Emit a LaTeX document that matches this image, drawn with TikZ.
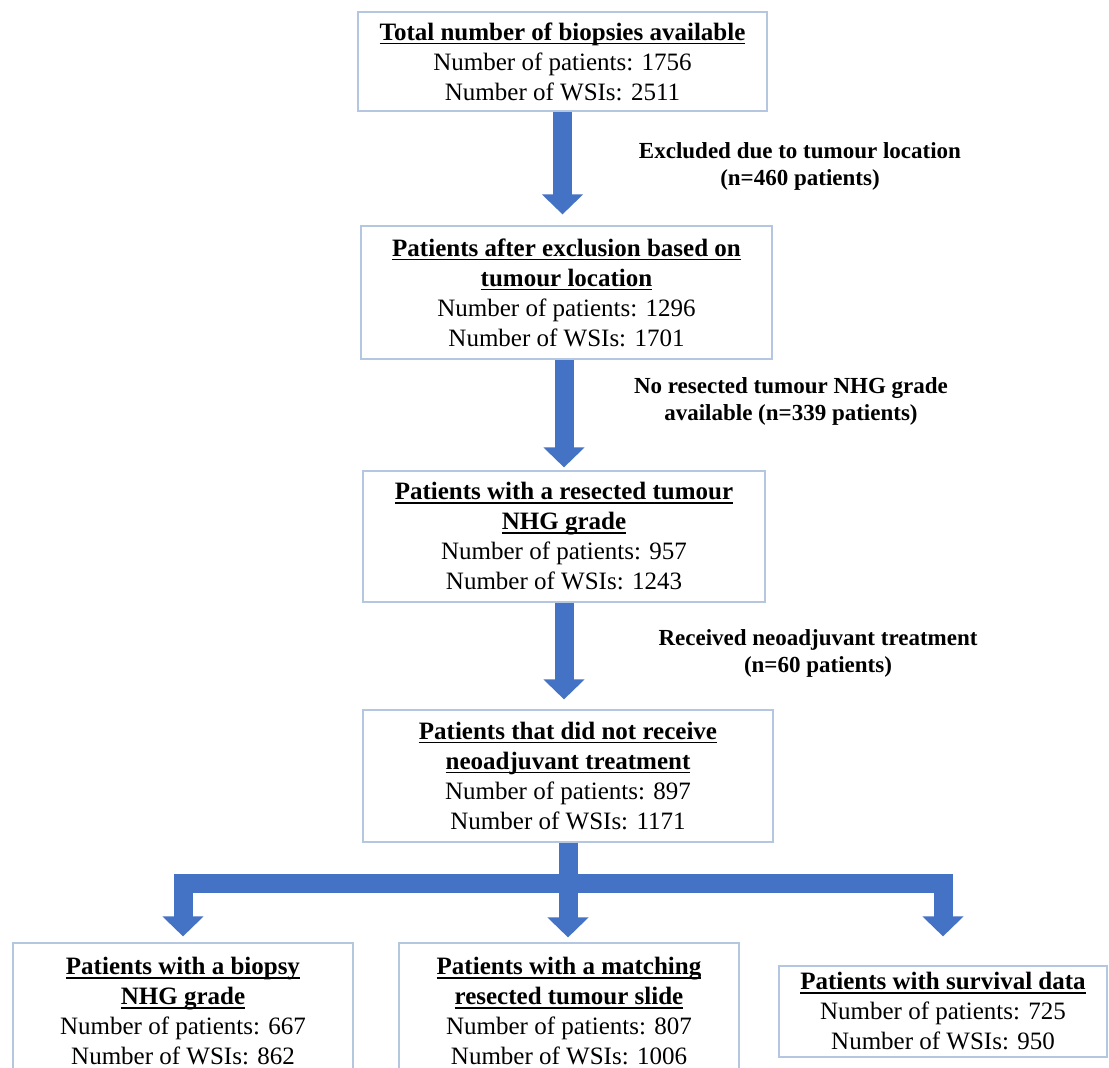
\documentclass[tikz,border=0pt]{standalone}
\usepackage{fontspec}
\setmainfont{Liberation Serif}
\usetikzlibrary{arrows.meta}
\definecolor{boxline}{HTML}{B4C6E0}
\definecolor{arrowblue}{HTML}{4472C4}
\newcommand{\boxtitle}[1]{\textbf{\setbox0\hbox{#1}\rlap{\rule[-1.9pt]{\wd0}{0.65pt}}\box0}}

\begin{document}
\begin{tikzpicture}[x=0.5pt,y=-0.5pt,
  box/.style={draw=boxline, line width=0.6pt, align=center, inner sep=0pt, font=\fontsize{12.5}{15}\selectfont},
  note/.style={align=center, font=\fontsize{11.5}{13.5}\selectfont\bfseries},
  blockarrow/.style={draw=arrowblue, line width=9.5pt, -{Triangle[width=20pt,length=10pt]}}]
\useasboundingbox (0,0) rectangle (1109,1068);

\node[box, minimum width=204.5pt, minimum height=49.5pt] (total) at (562.5,61.5) {\boxtitle{Total number of biopsies available}\\Number of patients: 1756\\Number of WSIs: 2511};
\node[box, minimum width=205.5pt, minimum height=66.5pt] (location) at (566.5,292.5) {\boxtitle{Patients after exclusion based on}\\\boxtitle{tumour location}\\Number of patients: 1296\\Number of WSIs: 1701};
\node[box, minimum width=201pt, minimum height=65.5pt] (resected) at (564,536.5) {\boxtitle{Patients with a resected tumour}\\\boxtitle{NHG grade}\\Number of patients: 957\\Number of WSIs: 1243};
\node[box, minimum width=205pt, minimum height=66pt] (untreated) at (568,776) {\boxtitle{Patients that did not receive}\\\boxtitle{neoadjuvant treatment}\\Number of patients: 897\\Number of WSIs: 1171};
\node[box, minimum width=170pt, minimum height=68.5pt] (biopsy) at (183,1011.5) {\boxtitle{Patients with a biopsy}\\\boxtitle{NHG grade}\\Number of patients: 667\\Number of WSIs: 862};
\node[box, minimum width=170pt, minimum height=68.5pt] (matching) at (569,1011.5) {\boxtitle{Patients with a matching}\\\boxtitle{resected tumour slide}\\Number of patients: 807\\Number of WSIs: 1006};
\node[box, minimum width=164pt, minimum height=45.5pt] (survival) at (943,1011.5) {\boxtitle{Patients with survival data}\\Number of patients: 725\\Number of WSIs: 950};

% exclusion notes
\node[note] (excl1) at (800,166) {Excluded due to tumour location\\(n=460 patients)};
\node[note] (excl2) at (791,401) {No resected tumour NHG grade\\available (n=339 patients)};
\node[note] (excl3) at (818,653) {Received neoadjuvant treatment\\(n=60 patients)};

\draw[blockarrow, shorten >=5.5pt] (total.south) -- (total.south |- location.north);
\draw[blockarrow, shorten >=1.5pt] (resected.north |- location.south) -- (resected.north);
\draw[blockarrow, shorten >=5pt] (resected.south) -- (resected.south |- untreated.north);

% split into three sub-cohorts
\coordinate (split) at (567,883.5);
\draw[blockarrow, shorten >=2.5pt] (untreated.south) -- (untreated.south |- matching.north);
\draw[blockarrow, shorten >=3pt] (split) -| (biopsy);
\draw[blockarrow, shorten >=14.5pt] (split) -| (survival);
\end{tikzpicture}
\end{document}
